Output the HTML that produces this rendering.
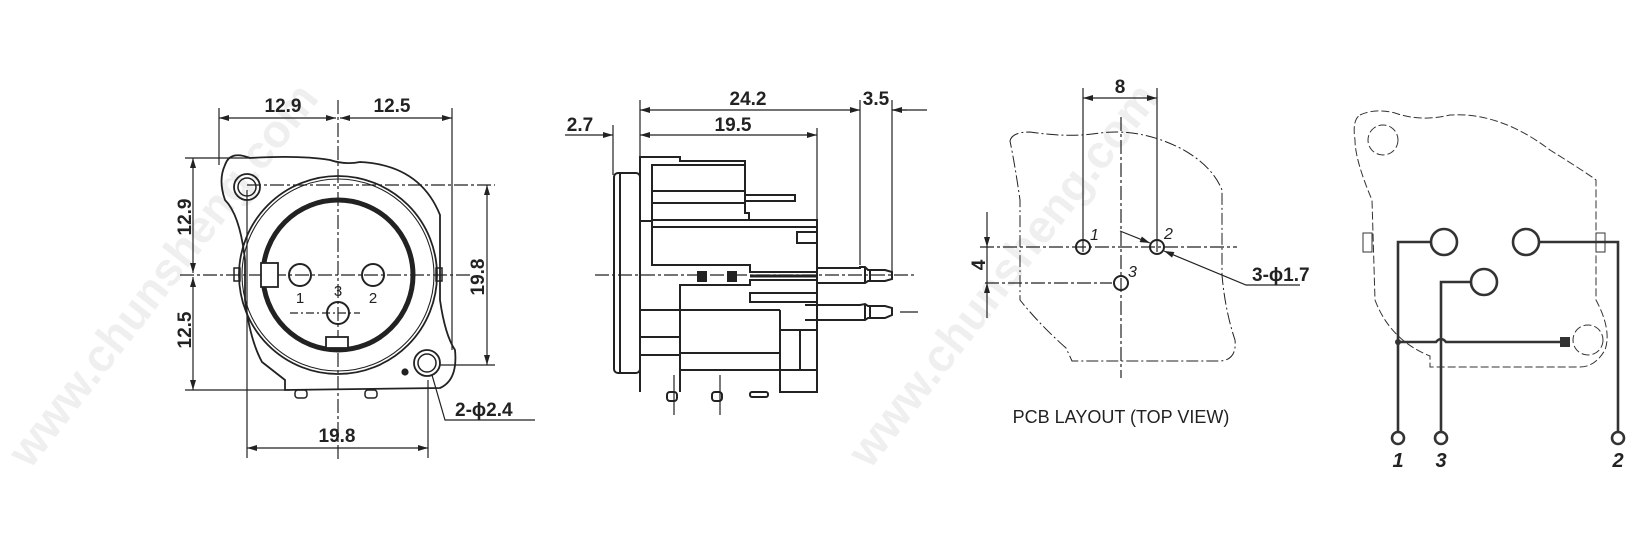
<!DOCTYPE html>
<html><head><meta charset="utf-8"><style>
html,body{margin:0;padding:0;background:#fff;width:1644px;height:555px;overflow:hidden}
svg{display:block}
text{font-family:"Liberation Sans",sans-serif;fill:#222}
.d{font-size:19px;font-weight:bold}
</style></head><body>
<svg width="1644" height="555" viewBox="0 0 1644 555" xmlns="http://www.w3.org/2000/svg">
<defs>
<marker id="a" viewBox="0 0 10 6" refX="10" refY="3" markerWidth="11" markerHeight="6" orient="auto-start-reverse" markerUnits="userSpaceOnUse"><path d="M0,0 L10,3 L0,6z" fill="#222"/></marker>
</defs>
<g font-family="Liberation Sans" font-weight="bold" font-size="46">
<text x="0" y="0" transform="translate(30,470) rotate(-52)" style="fill:#efefef">www.chunsheng.com</text>
<text x="0" y="0" transform="translate(870,470) rotate(-52)" style="fill:#efefef">www.chunsheng.com</text>
</g>

<g stroke="#222" fill="none" stroke-width="1.2">
<!-- ===== Front view ===== -->
<line x1="219" y1="108" x2="219" y2="165"/><line x1="452" y1="108" x2="452" y2="350"/>
<line x1="338" y1="100" x2="338" y2="460" stroke-dasharray="14,3,3,3"/>
<line x1="219" y1="118" x2="336" y2="118" marker-start="url(#a)" marker-end="url(#a)"/>
<line x1="340" y1="118" x2="452" y2="118" marker-start="url(#a)" marker-end="url(#a)"/>
<line x1="185" y1="158" x2="250" y2="158"/><line x1="185" y1="390" x2="290" y2="390"/>
<line x1="193" y1="158" x2="193" y2="273" marker-start="url(#a)" marker-end="url(#a)"/>
<line x1="193" y1="277" x2="193" y2="390" marker-start="url(#a)" marker-end="url(#a)"/>
<line x1="180" y1="275" x2="470" y2="275" stroke-dasharray="14,3,3,3"/>
<line x1="247" y1="185" x2="495" y2="185" stroke-dasharray="14,3,3,3"/>
<line x1="440" y1="365" x2="495" y2="365"/>
<line x1="487" y1="185" x2="487" y2="365" marker-start="url(#a)" marker-end="url(#a)"/>
<line x1="247" y1="190" x2="247" y2="458"/><line x1="428" y1="380" x2="428" y2="458"/>
<line x1="247" y1="448" x2="428" y2="448" marker-start="url(#a)" marker-end="url(#a)"/>
<path d="M225,165 Q230,150 250,158 Q300,155 330,160 Q345,165 360,162 Q420,165 440,215 L440,300 Q445,335 455,350 Q458,380 440,388 L285,390 L285,380 L262,362 Q250,340 245,300 L245,260 Q240,215 225,200 Q218,180 225,165Z" stroke-width="1.8"/>
<circle cx="247" cy="187" r="13" stroke-width="1.8"/><circle cx="247" cy="187" r="9" stroke-width="1.5"/>
<circle cx="427" cy="363" r="13" stroke-width="1.8"/><circle cx="427" cy="363" r="9" stroke-width="1.5"/>
<circle cx="338" cy="275" r="99" stroke-width="1.8"/><circle cx="338" cy="275" r="96" stroke-width="1.1"/>
<circle cx="338" cy="275" r="75" stroke-width="5"/>
<rect x="261" y="263" width="17" height="24" stroke-width="1.8" fill="#fff"/>
<rect x="326" y="337" width="22" height="11" stroke-width="1.8" fill="#fff"/>
<circle cx="300" cy="275" r="11" stroke-width="2"/><circle cx="373" cy="275" r="11" stroke-width="2"/><circle cx="338" cy="313" r="11" stroke-width="2"/>
<line x1="290" y1="313" x2="360" y2="313" stroke-dasharray="8,3,2,3"/>
<rect x="234" y="268" width="6" height="13" stroke-width="1.5"/><rect x="436" y="268" width="6" height="13" stroke-width="1.5"/>
<rect x="295" y="390" width="12" height="8" rx="3" stroke-width="1.5"/><rect x="365" y="390" width="12" height="8" rx="3" stroke-width="1.5"/>
<circle cx="405" cy="372" r="3" fill="#222"/>
<polyline points="432,375 445,420 535,420"/>
</g>
<g class="d">
<text x="283" y="112" text-anchor="middle">12.9</text><text x="392" y="112" text-anchor="middle">12.5</text>
<text transform="translate(191,217) rotate(-90)" text-anchor="middle">12.9</text>
<text transform="translate(191,330) rotate(-90)" text-anchor="middle">12.5</text>
<text transform="translate(484,277) rotate(-90)" text-anchor="middle">19.8</text>
<text x="337" y="442" text-anchor="middle">19.8</text>
<text x="455" y="416">2-ϕ2.4</text>
</g>
<g font-size="15"><text x="300" y="303" text-anchor="middle">1</text><text x="373" y="303" text-anchor="middle">2</text><text x="338" y="296" text-anchor="middle">3</text></g>

<!-- ===== Side view ===== -->
<g stroke="#222" fill="none" stroke-width="1.2">
<line x1="640" y1="100" x2="640" y2="160"/><line x1="613" y1="125" x2="613" y2="175"/>
<line x1="817" y1="128" x2="817" y2="220"/><line x1="860" y1="100" x2="860" y2="265"/><line x1="892" y1="100" x2="892" y2="275"/>
<line x1="640" y1="110" x2="860" y2="110" marker-start="url(#a)" marker-end="url(#a)"/>
<line x1="892" y1="110" x2="927" y2="110"/><line x1="907" y1="110" x2="892" y2="110" marker-end="url(#a)"/>
<line x1="640" y1="135" x2="817" y2="135" marker-start="url(#a)" marker-end="url(#a)"/>
<line x1="565" y1="135" x2="613" y2="135" marker-end="url(#a)"/>
<line x1="595" y1="275" x2="915" y2="275" stroke-dasharray="14,3,3,3"/>
<line x1="900" y1="312" x2="918" y2="312"/>
<g stroke-width="2">
<rect x="614" y="173" width="26" height="200" rx="4"/>
<line x1="620" y1="173" x2="620" y2="373"/>
<polyline points="640,392 640,157 680,157 680,161 745,161 745,213 749,213 749,220 817,220 817,392"/>
<polyline points="652,226 652,165 745,165"/>
<line x1="652" y1="191" x2="745" y2="191"/><line x1="652" y1="203" x2="745" y2="203"/>
<rect x="745" y="195" width="50" height="6"/>
<line x1="652" y1="220" x2="817" y2="220"/><line x1="652" y1="227" x2="817" y2="227"/>
<line x1="640" y1="221" x2="652" y2="221"/>
<polyline points="817,232 797,232 797,243 817,243"/>
<polyline points="652,226 652,265 750,265 750,272 817,272"/>
<polyline points="817,280 750,280 750,285 680,285 680,392"/>
<rect x="750" y="293" width="67" height="9"/>
<line x1="640" y1="310" x2="780" y2="310"/><polyline points="780,310 780,330 817,330"/>
<line x1="640" y1="337" x2="680" y2="337"/><line x1="640" y1="355" x2="680" y2="355"/>
<line x1="680" y1="353" x2="780" y2="353"/><line x1="680" y1="370" x2="810" y2="370"/>
<line x1="780" y1="330" x2="780" y2="375"/><line x1="800" y1="330" x2="800" y2="370"/>
<rect x="780" y="370" width="37" height="22"/>
<rect x="698" y="272" width="8" height="9" fill="#222"/><rect x="728" y="272" width="8" height="9" fill="#222"/>
<line x1="750" y1="276" x2="817" y2="276" stroke-width="3"/>
<polyline points="817,268 860,268 860,267 865,267 868,270 885,270 892,272 892,279 885,281 868,281 865,283 860,283 817,283"/>
<line x1="865" y1="267" x2="865" y2="283"/><line x1="870" y1="269" x2="870" y2="282"/>
<polyline points="805,305 860,305 865,304 868,306 885,306 892,308 892,315 885,318 868,318 865,320 860,320 805,320"/>
<line x1="865" y1="304" x2="865" y2="320"/><line x1="870" y1="306" x2="870" y2="318"/>
<rect x="667" y="392" width="10" height="9" rx="3"/><rect x="712" y="392" width="10" height="9" rx="3"/><rect x="750" y="392" width="18" height="5" rx="2"/>
</g>
<line x1="674" y1="375" x2="674" y2="415"/><line x1="720" y1="375" x2="720" y2="415"/>
</g>
<g class="d"><text x="748" y="105" text-anchor="middle">24.2</text><text x="876" y="105" text-anchor="middle">3.5</text>
<text x="733" y="131" text-anchor="middle">19.5</text><text x="580" y="131" text-anchor="middle">2.7</text></g>

<!-- ===== PCB layout ===== -->
<g stroke="#222" fill="none" stroke-width="1.2">
<line x1="1083" y1="88" x2="1083" y2="252"/><line x1="1157" y1="88" x2="1157" y2="252"/>
<line x1="1083" y1="98" x2="1157" y2="98" marker-start="url(#a)" marker-end="url(#a)"/>
<line x1="1121" y1="117" x2="1121" y2="378" stroke-dasharray="14,3,3,3"/>
<line x1="980" y1="247" x2="1237" y2="247" stroke-dasharray="14,3,3,3"/>
<line x1="985" y1="283" x2="1112" y2="283" stroke-dasharray="14,3,3,3"/>
<line x1="987" y1="212" x2="987" y2="247" marker-end="url(#a)"/>
<line x1="987" y1="318" x2="987" y2="283" marker-end="url(#a)"/>
<line x1="987" y1="247" x2="987" y2="283"/>
<path d="M1010,141 Q1012,132 1030,132 Q1070,138 1100,133 Q1140,128 1180,148 Q1212,165 1222,190 L1222,275 Q1225,310 1235,340 Q1237,360 1220,361 L1072,361 L1066,348 Q1040,325 1020,300 L1020,200 Q1015,165 1010,141Z" stroke-dasharray="12,3,2,3" stroke-width="1"/>
<g stroke-width="2"><circle cx="1083" cy="247" r="7"/><circle cx="1157" cy="247" r="7"/><circle cx="1121" cy="283" r="7"/></g>
<line x1="1120" y1="231" x2="1150" y2="243" marker-end="url(#a)"/>
<polyline points="1300,285 1246,285 1164,251" marker-end="url(#a)"/>
</g>
<g font-size="16" font-style="italic"><text x="1090" y="240">1</text><text x="1164" y="239">2</text><text x="1128" y="277">3</text></g>
<g class="d"><text x="1120" y="93" text-anchor="middle">8</text><text transform="translate(985,265) rotate(-90)" text-anchor="middle">4</text><text x="1252" y="281">3-ϕ1.7</text></g>
<text x="1121" y="423" text-anchor="middle" font-size="18">PCB LAYOUT (TOP VIEW)</text>

<!-- ===== Wiring ===== -->
<g stroke="#333" fill="none" stroke-width="1" stroke-dasharray="8,3">
<path d="M1360,115 Q1375,108 1395,113 Q1420,122 1450,115 Q1500,112 1550,150 Q1590,175 1596,180 L1596,300 Q1612,330 1605,350 Q1595,367 1580,367 L1430,367 L1430,356 Q1390,340 1375,300 L1372,200 Q1355,160 1355,140 Q1352,120 1360,115Z"/>
<circle cx="1383" cy="140" r="15"/><circle cx="1588" cy="340" r="15"/>
</g>
<g stroke="#333" fill="none" stroke-width="1"><rect x="1363" y="233" width="9" height="19"/><rect x="1596" y="233" width="9" height="19"/></g>
<g stroke="#333" fill="none" stroke-width="2.6">
<circle cx="1444" cy="242" r="13"/><circle cx="1526" cy="242" r="13"/><circle cx="1484" cy="282" r="13"/>
<polyline points="1431,242 1398,242 1398,432"/>
<polyline points="1471,282 1441,282 1441,432"/>
<polyline points="1539,242 1618,242 1618,432"/>
<path d="M1398,342 L1436,342 Q1441,336 1446,342 L1563,342"/>
<circle cx="1398" cy="438" r="6"/><circle cx="1441" cy="438" r="6"/><circle cx="1618" cy="438" r="6"/>
</g>
<rect x="1560" y="337" width="10" height="10" fill="#333"/>
<circle cx="1398" cy="342" r="3" fill="#333"/>
<g font-size="20" font-weight="bold" font-style="italic"><text x="1398" y="467" text-anchor="middle">1</text><text x="1441" y="467" text-anchor="middle">3</text><text x="1618" y="467" text-anchor="middle">2</text></g>
</svg>
</body></html>
